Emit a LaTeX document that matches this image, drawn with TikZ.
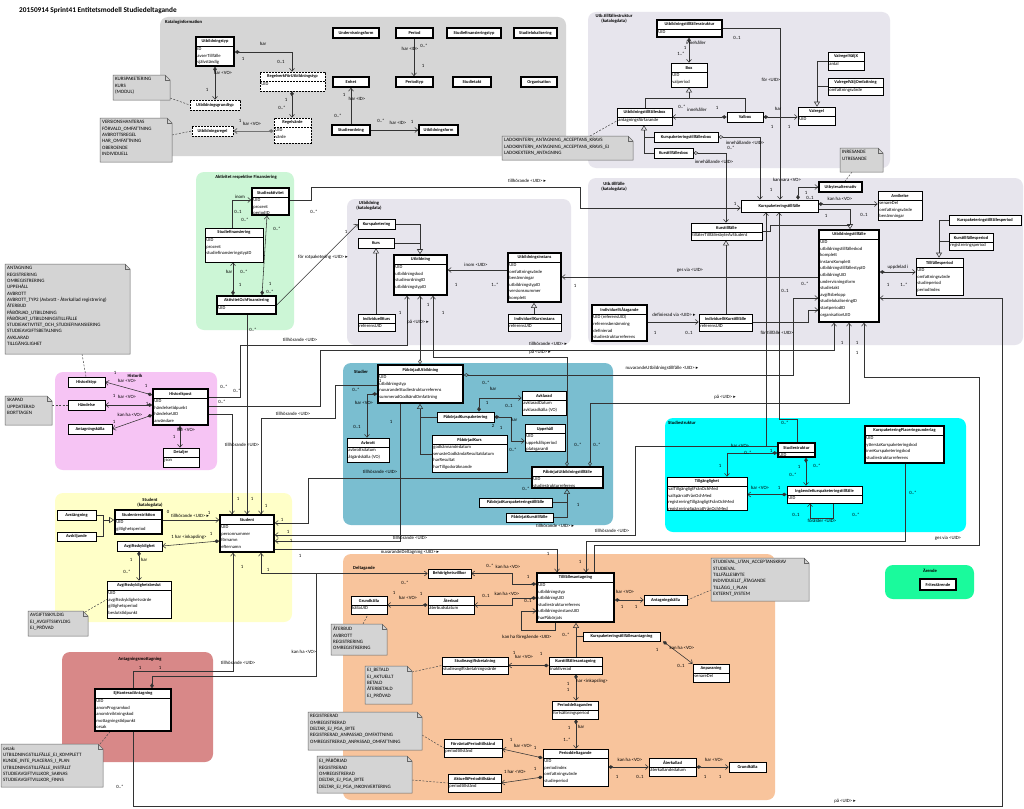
\documentclass[tikz,border=0pt]{standalone}
\usepackage{fontspec}
\setmainfont{Carlito}
\newfontfamily\dejavu{DejaVu Sans}
\usetikzlibrary{arrows.meta,fit,calc}
\pgfdeclarelayer{bg}\pgfdeclarelayer{ln}\pgfsetlayers{bg,ln,main}
\definecolor{katgray}{RGB}{214,214,214}
\definecolor{lav}{RGB}{231,229,237}
\definecolor{mint}{RGB}{204,246,214}
\definecolor{pinkh}{RGB}{246,196,244}
\definecolor{tealS}{RGB}{122,190,208}
\definecolor{cyanS}{RGB}{0,255,255}
\definecolor{yel}{RGB}{255,255,200}
\definecolor{rosy}{RGB}{216,136,136}
\definecolor{peach}{RGB}{248,196,156}
\definecolor{greenA}{RGB}{26,250,156}
\definecolor{notegray}{RGB}{212,212,212}
\newcounter{lbc}
\newcommand\tri{{\dejavu ▸}}
\tikzset{
 cls/.style={draw=black, line width=0.6pt, fill=white, inner sep=0pt},
 thk/.style={line width=1.6pt},
 dsh/.style={dash pattern=on 2pt off 1pt},
 hdr/.style={font=\fontsize{4.4}{5.2}\selectfont\bfseries, inner sep=0pt},
 att/.style={font=\fontsize{4.6}{6.6}\selectfont, inner sep=0pt, align=left, anchor=north west},
 notest/.style={fill=notegray, draw=black!60, line width=0.5pt},
 notetxt/.style={font=\fontsize{5}{6.3}\selectfont, inner sep=0pt, align=left, anchor=north west},
 plbl/.style={font=\fontsize{4.6}{5.4}\selectfont\bfseries, inner sep=0pt, align=center},
 lbl/.style={font=\fontsize{4.8}{5.5}\selectfont, inner sep=0pt},
 con/.style={draw=black!80, line width=0.55pt},
 arr/.style={con, -{Straight Barb[length=3pt,width=5pt]}},
 cmp/.style={con, {Diamond[length=5pt,width=3.6pt]}-{Straight Barb[length=3pt,width=5pt]}},
 agg/.style={con, {Diamond[open,length=5pt,width=3.6pt]}-{Straight Barb[length=3pt,width=5pt]}},
 gen/.style={con, -{Triangle[open,length=5pt,width=6pt]}},
 dnote/.style={draw=black!70, line width=0.5pt, dash pattern=on 2pt off 1.5pt},
}
\newcommand\uml[8][]{%
  \node[cls,#1,fit={(#3,#4)(#5,#6)}] (#2) {};
  \if\relax\detokenize{#8}\relax
    \node[hdr] (#2h) at (#2.center) {#7};
  \else
    \node[hdr] (#2h) at ({(#3+#5)/2},{#4+4.8}) {#7};
    \draw[cls,#1,fill=none] (#3,{#4+9.5}) -- (#5,{#4+9.5});
    \node[att] (#2a) at ({#3+1.2},{#4+10.3}) {#8};
  \fi}
\newcommand\unote[6]{%
  \path[notest] (#2,#3) -- ({#4-5},#3) -- (#4,{#3+5}) -- (#4,#5) -- (#2,#5) -- cycle;
  \draw[notest,fill=none] ({#4-5},#3) -- ({#4-5},{#3+5}) -- (#4,{#3+5});
  \node[fit={(#2,#3)(#4,#5)},inner sep=0pt] (#1) {};
  \node[notetxt] (#1t) at ({#2+2},{#3+2.5}) {#6};}
\newcommand\lb[3]{\stepcounter{lbc}\node[lbl] (lab\arabic{lbc}) at (#1,#2) {#3};}
\begin{document}
\begin{tikzpicture}[x=1pt,y=-1pt]
\useasboundingbox (0,0) rectangle (1024,808);
\begin{pgfonlayer}{bg}
\fill[white] (0,0) rectangle (1024,808);
\fill[katgray, rounded corners=8pt] (160,17) rectangle (566,156);
\fill[lav, rounded corners=8pt] (588,12) rectangle (890,168);
\fill[lav, rounded corners=8pt] (588,178) rectangle (1023,345);
\fill[lav, rounded corners=8pt] (347,199) rectangle (571,345);
\fill[mint, rounded corners=8pt] (196,172) rectangle (294,330);
\fill[pinkh, rounded corners=8pt] (55,372) rectangle (217,470);
\fill[tealS, rounded corners=8pt] (343,363) rectangle (613,525);
\fill[cyanS, rounded corners=8pt] (665,418) rectangle (966,532);
\fill[yel, rounded corners=8pt] (55,493) rectangle (292,622);
\fill[rosy, rounded corners=8pt] (62,652) rectangle (213,762);
\fill[peach, rounded corners=8pt] (343,554) rectangle (775,800);
\fill[greenA, rounded corners=8pt] (885,565) rectangle (974,599);
\end{pgfonlayer}
\node[font=\fontsize{7.3}{9}\selectfont\bfseries, anchor=west, inner sep=0pt] (title) at (19,11) {20150914 Sprint41 Entitetsmodell Studiedeltagande};
% package labels
\node[plbl, anchor=west] (pk1) at (165,22) {Kataloginformation};
\node[plbl, anchor=north] (pk2) at (614,14) {Utb.tillfällestruktur\\(katalogdata)};
\node[plbl, anchor=north] (pk3) at (614,182) {Utb.tillfälle\\(katalogdata)};
\node[plbl, anchor=north] (pk4) at (369,201) {Utbildning\\(katalogdata)};
\node[plbl] (pk5) at (246,177) {Aktivitet respektive Finansiering};
\node[plbl] (pk6) at (135,376) {Historik};
\node[plbl, anchor=west] (pk7) at (354,372) {Studier};
\node[plbl, anchor=west] (pk8) at (668,423) {Studiestruktur};
\node[plbl] (pk9) at (150,503) {Student\\(katalogdata)};
\node[plbl] (pk10) at (140,659) {Antagningsmottagning};
\node[plbl, anchor=west] (pk11) at (353,568) {Deltagande};
\node[plbl] (pk12) at (930,571) {Ärende};
% ---------- classes
\uml[thk]{utyp}{196}{37}{234}{66}{Utbildningstyp}{ID\\avserTillfälle\\självständig}
\uml[dsh]{ugrund}{190}{100}{240}{110}{Utbildningsgrundtyp}{}
\uml[dsh]{uregel}{192}{126}{233}{136}{Utbildningsregel}{}
\uml[dsh]{regv}{260}{72}{325}{91}{RegelverkFörUtbildningstyp}{UID}
\uml[dsh]{regvarde}{274}{118}{311}{143}{Regelvärde}{UID\\värde}
\uml[thk]{uform}{333}{28}{379}{38}{Undervisningsform}{}
\uml[thk]{period}{396}{28}{433}{38}{Period}{}
\uml[thk]{sftyp}{447}{28}{501}{38}{Studiefinansieringstyp}{}
\uml[thk]{slok}{514}{28}{557}{38}{Studielokalisering}{}
\uml[thk]{enhet}{333}{77}{369}{87}{Enhet}{}
\uml[thk]{ptyp}{396}{77}{433}{87}{Periodtyp}{}
\uml[thk]{stakt}{453}{77}{491}{87}{Studietakt}{}
\uml[thk]{org}{521}{77}{557}{87}{Organisation}{}
\uml[thk]{sord}{332}{125}{370}{135}{Studieordning}{}
\uml[thk]{utform}{419}{125}{458}{135}{Utbildningsform}{}
\uml[thk]{uts}{657}{20}{722}{37}{Utbildningstillfällesstruktur}{UID}
\uml{box}{671}{63}{707}{87}{Box}{UID\\valperiod}
\uml{utbox}{617}{108}{672}{125}{Utbildningstillfällesbox}{antagningsförfarande}
\uml{valbox}{727}{112}{763}{122}{Valbox}{}
\uml{valregel}{798}{107}{835}{125}{Valregel}{UID}
\uml{vx}{828}{52}{864}{70}{ValregelVäljX}{antal}
\uml{vo}{828}{78}{883}{95}{ValregelVäljOmfattning}{omfattningsvärde}
\uml{kptbox}{654}{132}{718}{142}{Kurspaketeringstillfällesbox}{}
\uml{ktbox}{654}{148}{693}{158}{Kurstillfällesbox}{}
\uml{kpt}{741}{200}{818}{212}{Kurspaketeringstillfälle}{}
\uml[thk]{ubyt}{819}{182}{862}{192}{Utbytesalternativ}{}
\uml{avv}{878}{191}{922}{220}{Avvikelse}{senareDel\\omfattningsvärde\\benämningar}
\uml{kptper}{949}{215}{1021}{225}{Kurspaketeringstillfällesperiod}{}
\uml{ktper}{949}{233}{993}{250}{Kurstillfällesperiod}{registreringsperiod}
\uml{tper}{916}{258}{963}{295}{Tillfällesperiod}{UID\\omfattningsvärde\\studieperiod\\periodIndex}
\uml[thk]{utf}{819}{230}{879}{322}{Utbildningstillfälle}{UID\\utbildningstillfälleskod\\komplett\\instansKomplett\\utbildningstillfällestypID\\utbildningUID\\undervisningsform\\studietakt\\avgiftsbelopp\\studielokaliseringID\\startperiodID\\organisationUID}
\uml{kt}{691}{223}{762}{240}{Kurstillfälle}{tillåterTillfällesbyteAvStudent}
\uml[thk]{ia}{592}{305}{647}{341}{IndividuelltÅtagande}{UID (referensUID)\\referensbenämning\\definierad\\studiestrukturreferens}
\uml{ikt}{699}{314}{752}{331}{IndividuelltKurstillfälle}{referensUID}
\uml{kp}{358}{219}{395}{229}{Kurspaketering}{}
\uml{kurs}{358}{238}{394}{248}{Kurs}{}
\uml[thk]{utb}{394}{255}{447}{295}{Utbildning}{UID\\utbildningskod\\studieordningID\\utbildningstypID}
\uml[thk]{ui}{508}{253}{561}{302}{Utbildningsinstans}{UID\\omfattningsvärde\\benämningar\\utbildningstypID\\versionsnummer\\komplett}
\uml{ik}{358}{314}{395}{331}{IndividuellKurs}{referensUID}
\uml{iki}{508}{314}{561}{331}{IndividuellKursinstans}{referensUID}
\uml[thk]{sakt}{252}{188}{289}{215}{Studieaktivitet}{UID\\procent\\periodID}
\uml{sfin}{205}{228}{263}{262}{Studiefinansiering}{UID\\procent\\studiefinansieringstypID}
\uml[thk]{aof}{217}{296}{276}{314}{AktivitetOchFinansiering}{UID}
\uml{htyp}{68}{377}{105}{387}{Historiktyp}{}
\uml{hand}{68}{400}{105}{410}{Händelse}{}
\uml{akalla1}{68}{424}{112}{434}{Antagningskälla}{}
\uml[thk]{hpost}{153}{389}{208}{425}{Historikpost}{UID\\händelsetidpunkt\\händelseUID\\användare}
\uml{det}{163}{448}{199}{467}{Detaljer}{json}
\uml[thk]{pu}{378}{365}{463}{403}{PåbörjadUtbildning}{UID\\utbildningstyp\\nuvarandeStudiestrukturreferens\\summeradGodkändOmfattning}
\uml{avb}{347}{438}{389}{462}{Avbrott}{avbrottsdatum\\åtgärdskälla (VO)}
\uml{pkp}{437}{412}{494}{422}{PåbörjadKurspaketering}{}
\uml{pk}{432}{435}{507}{472}{PåbörjadKurs}{godkännandedatum\\senasteGodkändaResultatdatum\\harResultat\\harTillgodoräknande}
\uml{avk}{522}{391}{566}{415}{Avklarad}{avklaradDatum\\avklaradkälla (VO)}
\uml{upp}{525}{424}{565}{451}{Uppehåll}{UID\\uppehållsperiod\\platsgaranti}
\uml[thk]{put}{532}{467}{603}{488}{PåbörjatUtbildningstillfälle}{UID\\studiestrukturreferens}
\uml{pkpt}{479}{498}{552}{507}{PåbörjatKurspaketeringstillfälle}{}
\uml{pkt}{506}{513}{553}{522}{PåbörjatKurstillfälle}{}
\uml{avst}{57}{510}{96}{520}{Avstängning}{}
\uml{avsk}{57}{532}{96}{541}{Avskiljande}{}
\uml[thk]{sres}{115}{510}{162}{534}{Studentrestriktion}{UID\\giltighetsperiod}
\uml[thk]{stud}{220}{515}{274}{552}{Student}{UID\\personnummer\\förnamn\\efternamn}
\uml{agsk}{117}{541}{162}{551}{Avgiftsskyldighet}{}
\uml{agb}{107}{581}{171}{618}{Avgiftsskyldighetsbeslut}{UID\\avgiftsskyldighetsvärde\\giltighetsperiod\\beslutstidpunkt}
\uml[thk]{eja}{95}{689}{171}{731}{EjHanteradAntagning}{UID\\anomProgramkod\\anomInriktningskod\\mottagningstidpunkt\\orsak}
\uml{beh}{428}{569}{471}{578}{Behörighetsvillkor}{}
\uml{gk1}{351}{596}{387}{614}{Grundkälla}{källaUID}
\uml{ater}{428}{596}{474}{614}{Återbud}{återbudsdatum}
\uml{sab}{442}{657}{508}{674}{Studieavgiftsbetalning}{studieavgiftsbetalningsvärde}
\uml{fpt}{444}{739}{502}{757}{FörväntatPeriodtillstånd}{periodtillstånd}
\uml{apt}{448}{774}{501}{792}{AktuelltPeriodtillstånd}{periodtillstånd}
\uml[thk]{ta}{537}{573}{614}{622}{Tillfällesantagning}{UID\\utbildningstyp\\utbildningUID\\studiestrukturreferens\\utbildningsinstansUID\\harPåbörjats}
\uml{ak2}{644}{595}{687}{605}{Antagningskälla}{}
\uml{kpta}{583}{632}{660}{641}{Kurspaketeringstillfällesantagning}{}
\uml{anp}{693}{664}{729}{682}{Anpassning}{senareDel}
\uml{kta}{549}{657}{602}{674}{Kurstillfällesantagning}{inaktiverad}
\uml{pdn}{552}{701}{598}{719}{Perioddeltaganden}{fortsättningsperiod}
\uml{pd}{543}{749}{608}{786}{Perioddeltagande}{UID\\periodindex\\omfattningsvärde\\studieperiod}
\uml{aterk}{649}{758}{696}{776}{Återkallad}{återkallandedatum}
\uml{gk2}{729}{762}{766}{772}{Grundkälla}{}
\uml[thk]{ss}{778}{443}{815}{457}{Studiestruktur}{UID}
\uml{tg}{667}{477}{747}{510}{Tillgänglighet}{valTillgängligtFrånOchMed\\valSpärratFrånOchMed\\registreringTillgängligtFrånOchMed\\registreringSpärratFrånOchMed}
\uml{ikpt}{787}{486}{862}{503}{IngåendeKurspaketeringstillfälle}{UID}
\uml[thk]{kppu}{865}{426}{944}{463}{KurspaketeringPlaceringsunderlag}{UID\\ytterstaKurspaketeringskod\\inreKurspaketeringskod\\studiestrukturreferens}
\uml[thk]{fri}{920}{579}{956}{590}{Fritextärende}{}
% ---------- notes
\unote{nKP}{113}{75}{170}{100}{KURSPAKETERING\\KURS\\(MODUL)}
\unote{nVH}{100}{118}{172}{162}{VERSIONSHANTERAS\\FÖRVALD\_OMFATTNING\\AVBROTTSREGEL\\HAR\_OMFATTNING\\OBEROENDE\\INDIVIDUELL}
\unote{nLD}{502}{136}{633}{160}{LADOKINTERN\_ANTAGNING\_ACCEPTANS\_KRAVS\\LADOKINTERN\_ANTAGNING\_ACCEPTANS\_KRAVS\_EJ\\LADOKEXTERN\_ANTAGNING}
\unote{nIN}{840}{148}{883}{172}{INRESANDE\\UTRESANDE}
\unote{nA}{5}{264}{130}{354}{ANTAGNING\\REGISTRERING\\OMREGISTRERING\\UPPEHÅLL\\AVBROTT\\AVBROTT\_TYP2 (Avbrott - Återkallad registrering)\\ÅTERBUD\\PÅBÖRJAD\_UTBILDNING\\PÅBÖRJAT\_UTBILDNINGSTILLFÄLLE\\STUDIEAKTIVITET\_OCH\_STUDIEFINANSIERING\\STUDIEAVGIFTSBETALNING\\AVKLARAD\\TILLGÄNGLIGHET}
\unote{nS}{5}{396}{52}{425}{SKAPAD\\UPPDATERAD\\BORTTAGEN}
\unote{nAv}{28}{611}{88}{636}{AVGIFTSSKYLDIG\\EJ\_AVGIFTSSKYLDIG\\EJ\_PRÖVAD}
\unote{nO}{1}{744}{103}{787}{orsak:\\UTBILDNINGSTILLFÄLLE\_EJ\_KOMPLETT\\KUNDE\_INTE\_PLACERAS\_I\_PLAN\\UTBILDNINGSTILLFÄLLE\_INSTÄLLT\\STUDIEAVGIFTVILLKOR\_SAKNAS\\STUDIEAVGIFTVILLKOR\_FINNS}
\unote{nG}{331}{624}{387}{655}{ÅTERBUD\\AVBROTT\\REGISTRERING\\OMREGISTRERING}
\unote{nB}{365}{666}{412}{704}{EJ\_BETALD\\EJ\_AKTUELLT\\BETALD\\ÅTERBETALD\\EJ\_PRÖVAD}
\unote{nF}{308}{712}{422}{750}{REGISTRERAD\\OMREGISTRERAD\\DELTAR\_EJ\_PGA\_BYTE\\REGISTRERAD\_ANPASSAD\_OMFATTNING\\OMREGISTRERAD\_ANPASSAD\_OMFATTNING}
\unote{nAk}{317}{756}{412}{793}{EJ\_PÅBÖRJAD\\REGISTRERAD\\OMREGISTRERAD\\DELTAR\_EJ\_PGA\_BYTE\\DELTAR\_EJ\_PGA\_INKONVERTERING}
\unote{nK}{711}{558}{809}{601}{STUDIEVAL\_UTAN\_ACCEPTANSKRAV\\STUDIEVAL\\TILLFÄLLESBYTE\\INDIVIDUELLT\_ÅTAGANDE\\TILLÄGG\_I\_PLAN\\EXTERNT\_SYSTEM}
% ---------- connectors
\begin{pgfonlayer}{ln}
% Kataloginformation
\draw[cmp] (utyp.east|-0,52) -- (292,52) -- (292,0|-regv.north);
\draw[cmp] (215,0|-utyp.south) -- (215,0|-ugrund.north);
\draw[cmp] (292,0|-regv.south) -- (292,0|-regvarde.north);
\draw[cmp, line width=1pt, draw=black!55] (regvarde.west|-0,131) -- (uregel.east|-0,131);
\draw[arr] (414,0|-period.south) -- (414,0|-ptyp.north);
\draw[arr] (351,0|-sord.north) -- (351,0|-enhet.south);
\draw[arr] (sord.east|-0,130) -- (utform.west|-0,130);
\draw[dnote] (170,98) -- (ugrund.west);
\draw[dnote] (172,135) -- (uregel.west);
% Utb.tillfallestruktur
\draw[cmp] (689,0|-uts.south) -- (689,0|-box.north);
\draw[con] (645,0|-utbox.north) |- (745,98) -- (745,0|-valbox.north);
\draw[gen] (689,98) -- (689,0|-box.south);
\draw[cmp] (valbox.west) -- (utbox.east|-0,117);
\draw[cmp] (valbox.east) -- (valregel.west|-0,117);
\draw[con] (vx.west) -- (817,61) -- (817,86.5);
\draw[con] (vo.west) -- (817,86.5);
\draw[gen] (817,86.5) -- (817,0|-valregel.north);
\draw[con] (kptbox.west) -- (644,137);
\draw[con] (ktbox.west) -| (644,137);
\draw[gen] (644,137) -- (644,0|-utbox.south);
\draw[dnote] (590,136) -- (utbox.west|-0,121);
\draw[agg] (kptbox.east) -- (760,137) -- (760,0|-kpt.north);
\draw[agg] (ktbox.east) -- (726,153) -- (726,0|-kt.north);
\draw[arr] (uts.east|-0,28) -- (780,28) -- (780,0|-kpt.north);
% Utb.tillfalle
\draw[cmp] (798,0|-kpt.north) -- (798,187) -- (ubyt.west|-0,187);
\draw[cmp] (kpt.east|-0,204) -- (avv.west|-0,204);
\draw[con] (kpt.east|-0,209) -- (850,209) -- (850,225);
\draw[con] (kt.east) -- (770,231.5) |- (850,225);
\draw[gen] (850,225) -- (850,0|-utf.north);
\draw[gen] (726,0|-ikt.north) -- (726,0|-kt.south);
\draw[arr] (ia.east|-0,322) -- (ikt.west|-0,322);
\draw[cmp] (utf.east|-0,272) -- (tper.west|-0,272);
\draw[con] (kptper.west) -| (939,241.5);
\draw[con] (ktper.west) -- (939,241.5);
\draw[gen] (939,241.5) -- (939,0|-tper.north);
\draw[dnote] (852,172) -- (845,0|-ubyt.north);
\draw[arr] (utf.west|-0,277) -- (ui.east|-0,277);
\draw[arr] (ikt.east) -- (808,322.5) -- (808,310) -- (utf.west|-0,310);
% Utbildning
\draw[con] (kp.east) -| (420,243);
\draw[con] (kurs.east) -- (420,243);
\draw[gen] (420,243) -- (420,0|-utb.north);
\draw[gen] (376,0|-ik.north) -- (376,0|-kurs.south);
\draw[gen] (534,0|-iki.north) -- (534,0|-ui.south);
\draw[arr] (ui.west|-0,270) -- (utb.east|-0,270);
% Aktivitet
\draw[arr] (232,0|-sfin.north) |- (sakt.west|-0,200);
\draw[cmp] (233,0|-aof.north) -- (233,0|-sfin.south);
\draw[cmp] (262,0|-aof.north) -- (267,0|-sakt.south);
\draw[arr] (sakt.east|-0,200) -- (311,200) -- (311,187) -- (580,187) -- (580,208) -- (kpt.west|-0,208);
\draw[arr] (aof.east) -- (kp.west);
\draw[arr] (247,0|-aof.south) -- (247,0|-stud.north);
% Historik
\draw[cmp] (hpost.west|-0,395) -- (htyp.east);
\draw[cmp] (hpost.west|-0,405) -- (hand.east);
\draw[cmp] (hpost.west|-0,415) -- (akalla1.east);
\draw[cmp] (180,0|-hpost.south) -- (180,0|-det.north);
\draw[dnote] (82,354) -- (86,0|-htyp.north);
\draw[dnote] (52,405) -- (hand.west);
\draw[arr] (hpost.east|-0,414) -- (232,414) -- (232,0|-stud.north);
\draw[arr] (hpost.east|-0,397) -- (240,397) -- (240,345) -- (407,345) -- (407,0|-utb.south);
\draw[arr] (hpost.east|-0,406) -- (320,406) -- (320,350) -- (834,350) -- (834,0|-utf.south);
% Studier
\draw[arr] (pu.west|-0,385) -- (335,385) -- (335,418) -- (261,418) -- (261,0|-stud.north);
\draw[cmp] (pu.west|-0,394) -- (367,394) -- (367,0|-avb.north);
\draw[con] (pkp.west) -- (420,417);
\draw[con] (pk.west|-0,454) -| (420,417);
\draw[gen] (420,417) -- (420,0|-pu.south);
\draw[cmp] (479,0|-pkp.north) -- (479,398) -- (avk.west|-0,398);
\draw[cmp] (pkp.east) -- (511,417) -- (511,441) -- (upp.west|-0,441);
\draw[con] (pkpt.east) -- (567,502.5);
\draw[con] (pkt.east) -| (567,502.5);
\draw[gen] (567,502.5) -- (567,0|-put.south);
\draw[agg] (567,0|-put.north) -- (567,357) -- (433,357) -- (433,0|-utb.south);
\draw[agg] (420,0|-pu.north) -- (420,0|-utb.south);
\draw[agg] (pu.east|-0,375) -- (793,375) -- (793,298) -- (utf.west|-0,298);
\draw[agg] (590,0|-put.north) -- (590,403) -- (849,403) -- (849,0|-utf.south);
\draw[arr] (put.west|-0,478) -- (308,478) -- (308,523) -- (stud.east|-0,523);
\draw[arr] (400,0|-pu.south) -- (400,541) -- (stud.east|-0,541);
% Studiestruktur
\draw[arr] (797,0|-ss.north) -- (797,419) -- (779,419) -- (779,0|-kpt.south);
\draw[arr] (ss.west|-0,446) -- (766,446) -- (766,0|-kpt.south);
\draw[arr] (ss.west|-0,446) -- (635,446) -- (635,535) -- (stud.east|-0,535);
\draw[cmp] (ss.west|-0,453) -- (727,453) -- (727,0|-tg.north);
\draw[cmp] (806,0|-ss.south) -- (806,0|-ikpt.north);
\draw[cmp] (ikpt.west) -- (tg.east|-0,494.5);
\draw[arr] (833,0|-ikpt.south) -- (833,518) -- (810,518) -- (810,0|-ikpt.south);
\draw[arr] (905,0|-kppu.south) -- (905,541) -- (586,541) -- (586,0|-ta.north);
\draw[arr] (594,0|-ta.north) -- (594,545) -- (979,545) -- (979,377) -- (864,377) -- (864,0|-utf.south);
% Antagningsmottagning / Student
\draw[cmp] (152,0|-eja.north) -- (152,676) -- (316,676) -- (316,573.5) -- (beh.west);
\draw[arr] (316,573.5) -- (261,573.5) -- (261,0|-stud.south);
\draw[arr] (133,0|-eja.north) -- (133,671) -- (233,671) -- (233,0|-stud.south);
\draw[arr] (133,0|-eja.south) -- (133,806) -- (1002,806) -- (1002,298) -- (utf.east|-0,298);
\draw[arr] (stud.east|-0,549) -- (557,549) -- (557,0|-ta.north);
\draw[con] (avst.east) -| (103,536.5);
\draw[con] (avsk.east) -- (103,536.5);
\draw[gen] (103,520) -- (sres.west|-0,520);
\draw[arr] (sres.east|-0,520) -- (stud.west|-0,520);
\draw[cmp] (stud.west|-0,541) -- (agsk.east|-0,546);
\draw[cmp] (139,0|-agsk.south) -- (139,0|-agb.north);
\draw[dnote] (85,612) -- (agb.west);
\draw[dnote] (100,744) -- (110,0|-eja.south);
% Deltagande
\draw[cmp] (ater.west) -- (gk1.east|-0,605);
\draw[cmp] (ta.west|-0,584) -- (512,584) -- (512,573.5) -- (beh.east);
\draw[cmp] (ta.west|-0,598) -- (512,598) -- (512,605) -- (ater.east);
\draw[arr] (555,0|-ta.south) -- (555,630) -- (521,630) -- (521,611) -- (ta.west|-0,611);
\draw[cmp] (ta.east|-0,600) -- (ak2.west);
\draw[dnote] (ak2.east) -- (711,590);
\draw[con] (kpta.west) -- (576,636.5);
\draw[gen] (576,0|-kta.north) -- (576,0|-ta.south);
\draw[cmp] (663,0|-kpta.south) -- (anp.north west);
\draw[cmp] (kta.west) -- (sab.east|-0,665.5);
\draw[cmp] (576,0|-kta.south) -- (576,0|-pdn.north);
\draw[cmp] (576,0|-pdn.south) -- (576,0|-pd.north);
\draw[cmp] (pd.west|-0,758) -- (fpt.east|-0,749);
\draw[cmp] (pd.west|-0,777) -- (apt.east|-0,783);
\draw[cmp] (pd.east|-0,767) -- (aterk.west|-0,767);
\draw[cmp] (aterk.east|-0,767) -- (gk2.west);
\draw[dnote] (363,624) -- (368,0|-gk1.south);
\draw[dnote] (412,672) -- (sab.west);
\draw[dnote] (422,735) -- (fpt.west);
\draw[dnote] (412,780) -- (apt.west);
\end{pgfonlayer}
% ---------- labels
\lb{263}{44}{har}\lb{243}{59}{1}\lb{281}{62}{0..1}
\lb{223}{73}{har <VO>}\lb{207}{90}{1}
\lb{286}{100}{1}\lb{282}{108}{0..*}
\lb{252}{124}{har <VO>}\lb{240}{121}{1}
\lb{410}{49}{har <ID>}\lb{424}{46}{0..*}\lb{423}{66}{1}
\lb{344}{95}{1}\lb{357}{99}{har <ID>}\lb{338}{116}{0..*}
\lb{381}{121}{0..*}\lb{398}{123}{har <ID>}\lb{412}{122}{1}
\lb{696}{43}{innehåller}\lb{685}{48}{1}\lb{681}{54}{1..*}
\lb{682}{107}{0..*}\lb{697}{110}{innehåller}\lb{717}{108}{1}
\lb{778}{109}{har}\lb{772}{127}{1}\lb{789}{127}{1}
\lb{737}{38}{0..1}\lb{771}{80}{för <UID>}\lb{771}{190}{1}
\lb{745}{143}{innehållande <UID>}\lb{731}{148}{0..*}
\lb{714}{162}{innehållande <UID>}
\lb{787}{180}{kan vara <VO>}\lb{806}{193}{1}\lb{810}{198}{0..1}
\lb{840}{199}{kan ha <VO>}\lb{826}{216}{1}\lb{864}{215}{0..1}
\lb{898}{267}{uppdelad i}\lb{888}{285}{1}\lb{904}{285}{1..*}
\lb{674}{315}{definierad via <UID> \tri}\lb{655}{333}{1}\lb{689}{333}{0..1}
\lb{690}{270}{ges via <UID>}\lb{575}{286}{1}\lb{785}{291}{0..1}\lb{805}{284}{0..*}
\lb{777}{333}{för tillfälle <UID>}
\lb{735}{204}{1}\lb{527}{181}{tillhörande <UID> \tri}\lb{314}{212}{0..*}
\lb{476}{265}{inom <UID>}\lb{456}{285}{1}\lb{495}{285}{1..*}
\lb{418}{322}{på <UID> \tri}\lb{400}{313}{1}\lb{428}{305}{1}\lb{443}{313}{1}
\lb{240}{197}{inom}\lb{238}{212}{0..1}\lb{245}{220}{0..*}
\lb{229}{272}{har}\lb{244}{272}{0..*}\lb{240}{285}{1}
\lb{277}{229}{0..*}\lb{270}{284}{1}\lb{270}{292}{0..*}
\lb{323}{257}{för rotpaketering <UID> \tri}\lb{346}{232}{1}\lb{253}{330}{0..*}
\lb{127}{381}{har <VO>}\lb{115}{373}{1}\lb{146}{386}{1}
\lb{127}{397}{har <VO>}\lb{114}{396}{1}\lb{147}{404}{1}
\lb{130}{415}{kan ha <VO>}\lb{114}{422}{1}
\lb{186}{430}{har <VO>}\lb{174}{437}{1}
\lb{224}{387}{0..*}\lb{237}{391}{0..*}\lb{222}{402}{0..*}
\lb{300}{340}{tillhörande <UID>}\lb{242}{445}{tillhörande <UID>}
\lb{238}{499}{1}\lb{252}{499}{1}\lb{266}{506}{1}
\lb{356}{390}{0..*}\lb{364}{403}{har <VO>}\lb{357}{427}{0..1}\lb{391}{422}{1}
\lb{380}{381}{1}\lb{293}{414}{tillhörande <UID>}
\lb{486}{383}{0..*}\lb{493}{389}{har}\lb{487}{403}{1}\lb{509}{406}{0..1}
\lb{514}{420}{har}\lb{501}{428}{1}\lb{513}{450}{0..*}\lb{493}{426}{2}
\lb{380}{472}{tillhörande <UID>}
\lb{548}{344}{tillhörande <UID> \tri}\lb{540}{352}{på <UID> \tri}
\lb{662}{368}{nuvarandeUtbildningstillfälle <UID> \tri}\lb{725}{397}{på <UID> \tri}
\lb{597}{445}{0..*}\lb{578}{445}{0..*}\lb{526}{489}{0..*}\lb{578}{505}{1}
\lb{555}{526}{tillhörande <UID> \tri}
\lb{740}{446}{har <VO>}\lb{748}{453}{0..*}\lb{720}{466}{1}\lb{771}{451}{1}
\lb{785}{423}{0..*}\lb{799}{467}{1}\lb{817}{466}{0..*}\lb{793}{475}{0..*}
\lb{760}{488}{har <VO>}\lb{779}{488}{1}
\lb{822}{521}{förälder <UID>}\lb{796}{515}{0..1}\lb{856}{515}{0..*}
\lb{913}{493}{0..*}\lb{948}{538}{ges via <UID>}
\lb{842}{343}{1}\lb{857}{343}{1}\lb{857}{353}{1}
\lb{612}{531}{tillhörande <UID>}
\lb{168}{512}{0}\lb{190}{516}{tillhörande <UID> \tri}\lb{209}{513}{1}
\lb{189}{537}{1 har <inkapsling>}\lb{211}{534}{1}
\lb{144}{560}{har}\lb{131}{560}{1}\lb{127}{572}{0..*}
\lb{282}{520}{1}\lb{288}{532}{1}\lb{291}{541}{1}\lb{300}{556}{1}
\lb{242}{567}{1}\lb{268}{570}{1}
\lb{238}{663}{tillhörande <UID>}\lb{160}{668}{1}\lb{140}{668}{1}
\lb{120}{787}{0..*}\lb{845}{801}{på <UID> \tri}
\lb{410}{538}{tillhörande <UID>}\lb{410}{552}{nuvarandeDeltagning <UID> \tri}\lb{548}{554}{1}
\lb{304}{652}{kan ha <VO>}\lb{405}{583}{0..*}
\lb{490}{566}{0..*}\lb{508}{567}{kan ha <VO>}\lb{528}{577}{1}
\lb{486}{596}{0..1}\lb{507}{594}{kan ha <VO>}\lb{528}{601}{0..1}
\lb{408}{598}{har <VO>}\lb{394}{593}{1}\lb{421}{594}{1}
\lb{527}{637}{kan ha föregående <UID>}
\lb{625}{592}{har <VO>}\lb{622}{607}{1}\lb{636}{607}{1}
\lb{566}{635}{0..*}\lb{682}{648}{kan ha <VO>}\lb{657}{650}{1}\lb{681}{666}{0..1}
\lb{524}{657}{har <VO>}\lb{514}{653}{1}\lb{541}{654}{1}
\lb{592}{681}{har <inkapsling>}\lb{568}{684}{1}\lb{568}{690}{1}
\lb{581}{727}{har}\lb{569}{728}{1}\lb{567}{740}{1..*}
\lb{523}{746}{har <VO>}\lb{511}{740}{1}\lb{535}{748}{1}
\lb{515}{772}{1 har <VO>}\lb{535}{769}{1}
\lb{630}{760}{kan ha <VO>}\lb{617}{777}{1}\lb{640}{777}{0..1}
\lb{714}{760}{har <VO>}\lb{705}{777}{1}\lb{720}{777}{1}
\lb{580}{562}{1}
\end{tikzpicture}
\end{document}
